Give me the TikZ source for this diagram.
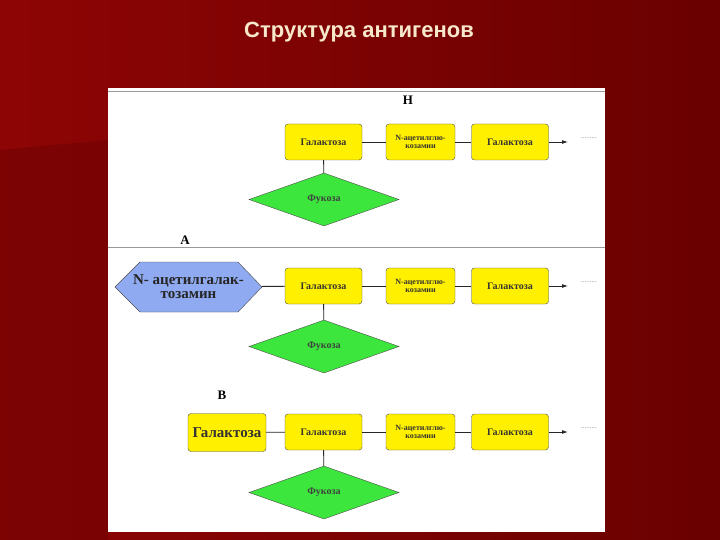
\documentclass[tikz,border=0pt]{standalone}
\usepackage{fontspec}
\setmainfont{Liberation Serif}
\newfontfamily\titlefont{Liberation Sans}
\usetikzlibrary{shapes.geometric,arrows.meta}
\definecolor{bgA}{HTML}{8E0505}
\definecolor{bgB}{HTML}{6A0000}
\definecolor{ybox}{HTML}{FFF000}
\definecolor{gdia}{HTML}{3CE63C}
\definecolor{bhex}{HTML}{8FAAF0}
\definecolor{cream}{HTML}{F7E8CC}
\tikzset{
  ybx/.style={draw=black!70, fill=ybox, rounded corners=3pt, minimum width=77pt, minimum height=36pt, inner sep=1pt, font=\bfseries\fontsize{10}{11}\selectfont, text=black!80},
  nbx/.style={ybx, minimum width=69pt, align=center, font=\bfseries\fontsize{8}{8.5}\selectfont},
  dia/.style={draw=black!70, fill=gdia, diamond, aspect=2.83, minimum width=150pt, minimum height=53pt, inner sep=0pt, font=\bfseries\fontsize{10}{11}\selectfont, text=black!75},
  lnk/.style={draw=black!85, line width=0.9pt},
  lbl/.style={font=\bfseries\fontsize{13}{14}\selectfont},
  dots/.style={font=\fontsize{7}{7}\selectfont, text=black!50}
}
\begin{document}
\begin{tikzpicture}[x=1pt,y=-1pt]
\useasboundingbox (0,0) rectangle (720,540);
\shade[left color=bgA, right color=bgB] (0,0) rectangle (720,540);
\fill[bgB!90!black, opacity=0.35] (0,150) -- (108,140) -- (108,540) -- (0,540) -- cycle;
\node[font=\titlefont\bfseries\fontsize{22}{26}\selectfont, text=cream] (title) at (359,32) {Структура антигенов};
\fill[white] (108,88) rectangle (605,532);
\draw[gray!80, line width=0.8pt] (108,91) -- (605,91);
\draw[gray!80, line width=0.8pt] (108,247) -- (605,247);
\node[lbl] (H) at (408,100) {Н};
\node[lbl] (A) at (185,240) {А};
\node[lbl] (B) at (222,395) {В};
% row 1
\node[ybx] (g1) at (323.5,142) {Галактоза};
\node[nbx] (n1) at (420.5,142) {N-ацетилглю-\\козамин};
\node[ybx] (h1) at (510,142) {Галактоза};
\coordinate (e1) at (568,142);
\node[dots] (d1) at (589,138) {.........};
\node[dia] (f1) at (324,199.5) {Фукоза};
\draw[lnk] (g1) -- (n1); \draw[lnk] (n1) -- (h1);
\draw[lnk,-{Latex[length=6pt,width=4pt]}] (h1) -- (e1);
\draw[lnk] (g1) -- (f1);
% row 2
\filldraw[draw=black!70, fill=bhex] (115,287) -- (140,262) -- (238,262) -- (262,287) -- (238,312) -- (140,312) -- cycle;
\node[minimum width=147pt, minimum height=50pt, inner sep=0pt, align=center, font=\bfseries\fontsize{15}{14}\selectfont, text=black!85] (x2) at (188.5,287) {N- ацетилгалак-\\тозамин};
\node[ybx] (g2) at (323.5,286) {Галактоза};
\node[nbx] (n2) at (420.5,286) {N-ацетилглю-\\козамин};
\node[ybx] (h2) at (510,286) {Галактоза};
\coordinate (e2) at (568,286);
\node[dots] (d2) at (589,282) {.........};
\node[dia] (f2) at (324,346.5) {Фукоза};
\draw[lnk] (x2) -- (g2); \draw[lnk] (g2) -- (n2); \draw[lnk] (n2) -- (h2);
\draw[lnk,-{Latex[length=6pt,width=4pt]}] (h2) -- (e2);
\draw[lnk] (g2) -- (f2);
% row 3
\node[ybx, minimum width=78pt, minimum height=38pt, font=\bfseries\fontsize{15}{16}\selectfont] (x3) at (227,432.5) {Галактоза};
\node[ybx] (g3) at (323.5,432) {Галактоза};
\node[nbx] (n3) at (420.5,432) {N-ацетилглю-\\козамин};
\node[ybx] (h3) at (510,432) {Галактоза};
\coordinate (e3) at (568,432);
\node[dots] (d3) at (589,428) {.........};
\node[dia] (f3) at (324,492.5) {Фукоза};
\draw[lnk] (x3) -- (g3); \draw[lnk] (g3) -- (n3); \draw[lnk] (n3) -- (h3);
\draw[lnk,-{Latex[length=6pt,width=4pt]}] (h3) -- (e3);
\draw[lnk] (g3) -- (f3);
\end{tikzpicture}
\end{document}
